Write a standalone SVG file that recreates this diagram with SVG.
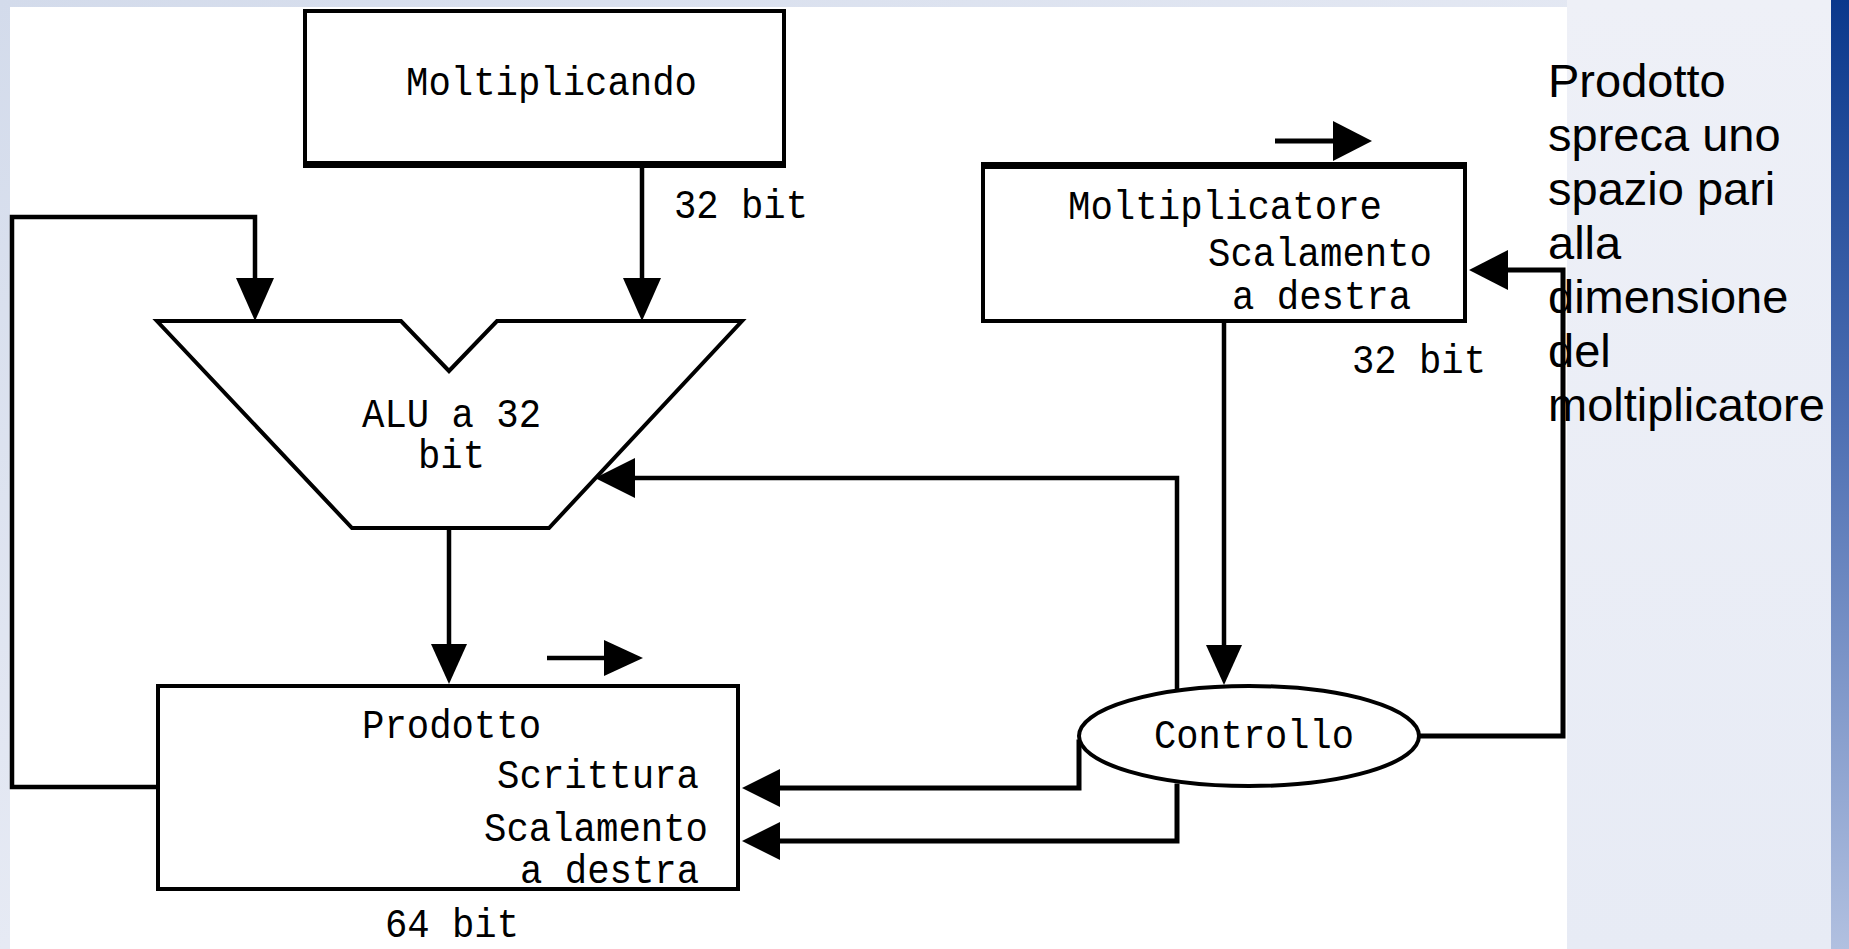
<svg xmlns="http://www.w3.org/2000/svg" width="1849" height="949" viewBox="0 0 1849 949">
  <defs>
    <linearGradient id="bgGrad" x1="0" y1="0" x2="1" y2="1">
      <stop offset="0" stop-color="#d3dbeb"/>
      <stop offset="0.5" stop-color="#e6eaf4"/>
      <stop offset="1" stop-color="#eceff6"/>
    </linearGradient>
    <linearGradient id="sideGrad" x1="0" y1="0" x2="0" y2="1">
      <stop offset="0" stop-color="#eef0f7"/>
      <stop offset="1" stop-color="#e7ebf5"/>
    </linearGradient>
    <linearGradient id="stripeGrad" x1="0" y1="0" x2="0" y2="1">
      <stop offset="0" stop-color="#0a388c"/>
      <stop offset="0.45" stop-color="#4f70b3"/>
      <stop offset="1" stop-color="#b1c0e0"/>
    </linearGradient>
    <style>
      .box { fill: #ffffff; stroke: #000000; stroke-width: 4; }
      .wire { fill: none; stroke: #000000; stroke-width: 4.5; stroke-linejoin: miter; stroke-linecap: square; }
      .head { fill: #000000; stroke: none; }
      .lbl { font-family: "Liberation Mono", "DejaVu Sans Mono", monospace; font-size: 40px; fill: #000000; }
      .note { font-family: "Liberation Sans", Arial, sans-serif; font-size: 47px; fill: #000000; }
    </style>
  </defs>

  <!-- page background -->
  <rect x="0" y="0" width="1849" height="949" fill="url(#bgGrad)"/>
  <rect x="1567" y="0" width="264" height="949" fill="url(#sideGrad)"/>
  <rect x="1831" y="0" width="18" height="949" fill="url(#stripeGrad)"/>
  <rect x="10" y="7" width="1557" height="942" fill="#ffffff"/>

  <!-- connectors -->
  <g id="connectors">
    <!-- Moltiplicando -> ALU -->
    <line class="wire" x1="642" y1="166" x2="642" y2="290"/>
    <polygon class="head" points="623,278 661,278 642,321"/>
    <!-- Prodotto feedback -> ALU -->
    <polyline class="wire" points="156,787 12,787 12,217 255,217 255,290"/>
    <polygon class="head" points="236,278 274,278 255,321"/>
    <!-- ALU -> Prodotto -->
    <line class="wire" x1="449" y1="528" x2="449" y2="650"/>
    <polygon class="head" points="431,644 467,644 449,684"/>
    <!-- shift direction marks -->
    <line class="wire" x1="547" y1="658" x2="606" y2="658" style="stroke-linecap:butt"/>
    <polygon class="head" points="604,640 604,676 643,658"/>
    <line class="wire" x1="1275" y1="141" x2="1336" y2="141" style="stroke-linecap:butt;stroke-width:5"/>
    <polygon class="head" points="1333,121 1333,161 1372,141"/>
    <!-- Moltiplicatore -> Controllo -->
    <line class="wire" x1="1224" y1="323" x2="1224" y2="650"/>
    <polygon class="head" points="1206,645 1242,645 1224,685"/>
    <!-- Controllo -> Moltiplicatore -->
    <polyline class="wire" points="1419,736 1563,736 1563,270 1505,270" style="stroke-width:5"/>
    <polygon class="head" points="1508,250 1508,290 1469,270"/>
    <!-- Controllo -> ALU -->
    <polyline class="wire" points="1177,688 1177,478 630,478"/>
    <polygon class="head" points="635,458 635,498 595,478"/>
    <!-- Controllo -> Prodotto (scrittura) -->
    <polyline class="wire" points="1079,742 1079,788 776,788" style="stroke-width:5"/>
    <polygon class="head" points="780,769 780,807 742,788"/>
    <!-- Controllo -> Prodotto (scalamento) -->
    <polyline class="wire" points="1177,786 1177,841 776,841" style="stroke-width:5"/>
    <polygon class="head" points="780,822 780,860 742,841"/>
  </g>

  <!-- Moltiplicando register -->
  <g id="moltiplicando">
    <rect class="box" x="305" y="11" width="479" height="152"/>
    <line x1="303" y1="165" x2="786" y2="165" stroke="#000000" stroke-width="6"/>
    <text class="lbl" x="406" y="95" textLength="291" lengthAdjust="spacingAndGlyphs">Moltiplicando</text>
    <text class="lbl" x="674" y="218" textLength="134" lengthAdjust="spacingAndGlyphs">32 bit</text>
  </g>

  <!-- ALU -->
  <g id="alu">
    <polygon class="box" points="157,321 401,321 449,371 497,321 742,321 549,528 352,528"/>
    <text class="lbl" x="362" y="427" textLength="179" lengthAdjust="spacingAndGlyphs">ALU a 32</text>
    <text class="lbl" x="418" y="468" textLength="67" lengthAdjust="spacingAndGlyphs">bit</text>
  </g>

  <!-- Prodotto register -->
  <g id="prodotto">
    <rect class="box" x="158" y="686" width="580" height="203"/>
    <text class="lbl" x="362" y="738" textLength="179" lengthAdjust="spacingAndGlyphs">Prodotto</text>
    <text class="lbl" x="497" y="788" textLength="202" lengthAdjust="spacingAndGlyphs">Scrittura</text>
    <text class="lbl" x="484" y="841" textLength="224" lengthAdjust="spacingAndGlyphs">Scalamento</text>
    <text class="lbl" x="520" y="883" textLength="179" lengthAdjust="spacingAndGlyphs">a destra</text>
    <text class="lbl" x="385" y="937" textLength="134" lengthAdjust="spacingAndGlyphs">64 bit</text>
  </g>

  <!-- Moltiplicatore register -->
  <g id="moltiplicatore">
    <rect class="box" x="983" y="166" width="482" height="155"/>
    <line x1="981" y1="165.5" x2="1467" y2="165.5" stroke="#000000" stroke-width="7"/>
    <text class="lbl" x="1068" y="219" textLength="314" lengthAdjust="spacingAndGlyphs">Moltiplicatore</text>
    <text class="lbl" x="1208" y="266" textLength="224" lengthAdjust="spacingAndGlyphs">Scalamento</text>
    <text class="lbl" x="1232" y="309" textLength="179" lengthAdjust="spacingAndGlyphs">a destra</text>
    <text class="lbl" x="1352" y="373" textLength="134" lengthAdjust="spacingAndGlyphs">32 bit</text>
  </g>

  <!-- Controllo unit -->
  <g id="controllo">
    <ellipse class="box" cx="1249" cy="736" rx="170" ry="50"/>
    <text class="lbl" x="1154" y="748" textLength="200" lengthAdjust="spacingAndGlyphs">Controllo</text>
  </g>

  <!-- side note -->
  <g id="nota">
    <text class="note" x="1548" y="97">Prodotto</text>
    <text class="note" x="1548" y="151">spreca uno</text>
    <text class="note" x="1548" y="205">spazio pari</text>
    <text class="note" x="1548" y="259">alla</text>
    <text class="note" x="1548" y="313">dimensione</text>
    <text class="note" x="1548" y="367">del</text>
    <text class="note" x="1548" y="421">moltiplicatore</text>
  </g>
</svg>
